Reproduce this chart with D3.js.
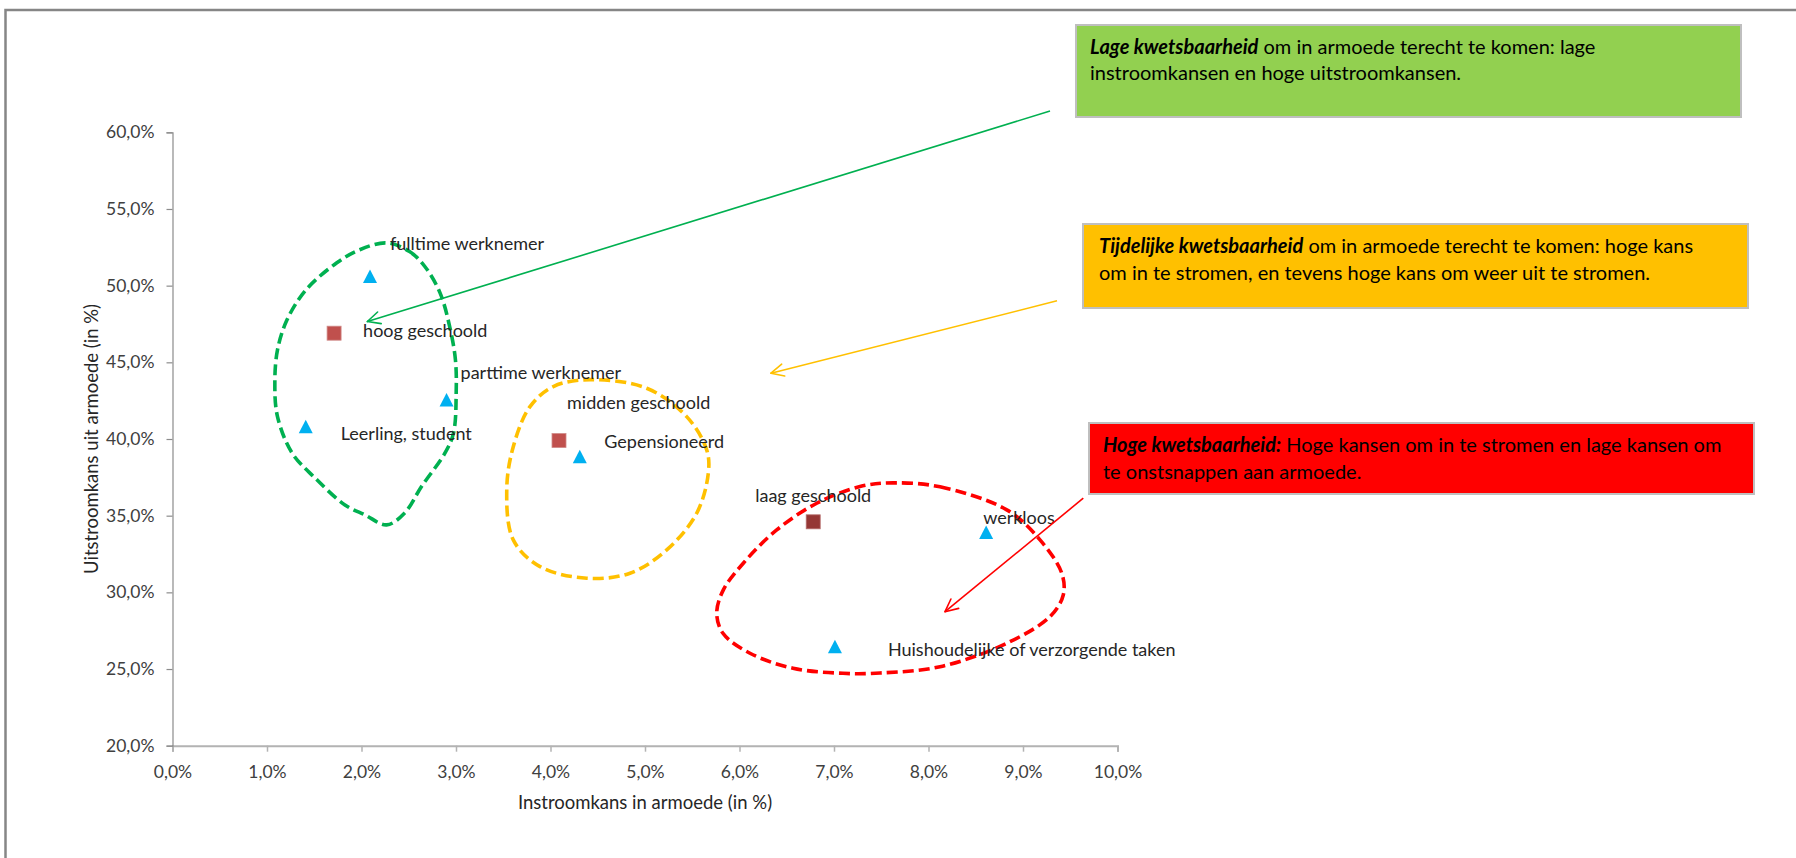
<!DOCTYPE html>
<html>
<head>
<meta charset="utf-8">
<script src="https://cdn.jsdelivr.net/npm/d3@7"></script>
<style>
  html, body { margin: 0; padding: 0; background: #fff; }
  svg { display: block; font-family: Lato, "Open Sans", sans-serif; }
</style>
</head>
<body>
<div id="chart"></div>
<script>
// scatter: inflow chance (x, %) vs outflow chance (y, %)
var labels = ['fulltime werknemer', 'hoog geschoold', 'parttime werknemer', 'Leerling, student',
  'midden geschoold', 'Gepensioneerd', 'laag geschoold', 'werkloos',
  'Huishoudelijke of verzorgende taken'];
var instroom = [2.09, 1.71, 2.90, 1.41, 4.09, 4.31, 6.78, 8.61, 7.01];
var uitstroom = [50.6, 46.9, 42.55, 40.8, 39.9, 38.85, 34.6, 33.9, 26.45];
var kinds = ['tri', 'sq', 'tri', 'tri', 'sq', 'tri', 'sqDark', 'tri', 'tri'];

var xTicks = [0, 1, 2, 3, 4, 5, 6, 7, 8, 9, 10];
var yTicks = [20, 25, 30, 35, 40, 45, 50, 55, 60];

// hand-drawn group outlines, in data units [x%, y%]
var greenOutline = [[2.265, 52.79], [2.508, 52.22], [2.67, 51.25], [2.831, 49.53], [2.933, 47.33],
  [2.994, 45.16], [3.002, 43.01], [2.974, 40.4], [2.884, 39.09], [2.635, 36.9], [2.457, 35.18],
  [2.266, 34.4], [2.037, 35.05], [1.825, 35.7], [1.508, 37.46], [1.265, 39.09], [1.111, 41.46],
  [1.083, 43.66], [1.111, 45.81], [1.212, 47.77], [1.413, 49.73], [1.739, 51.49], [1.981, 52.34]];
var orangeOutline = [[4.418, 43.87], [5.018, 43.31], [5.441, 41.46], [5.653, 39.29], [5.67, 37.77],
  [5.547, 35.16], [5.23, 32.77], [4.841, 31.25], [4.383, 30.92], [3.889, 31.68], [3.606, 33.42],
  [3.537, 36.68], [3.606, 39.5], [3.783, 42.11], [4.03, 43.42]];
var redOutline = [[7.624, 37.14], [8.122, 36.88], [8.828, 35.38], [9.18, 33.42], [9.41, 31.25],
  [9.426, 29.83], [9.286, 28.42], [8.828, 26.68], [8.122, 25.15], [7.487, 24.74], [7.095, 24.72],
  [6.566, 25.05], [6.111, 26.03], [5.825, 27.33], [5.759, 28.64], [5.829, 30.16], [6.04, 31.9],
  [6.394, 34.07], [6.817, 35.81], [7.275, 36.9]];

// callout arrows [from, to] in data units
var greenArrow = [[9.286, 61.39], [2.062, 47.66]];
var orangeArrow = [[9.36, 49.01], [6.333, 44.29]];
var redArrow = [[9.638, 36.14], [8.175, 28.74]];

var boxTitles = ['Lage kwetsbaarheid', 'Tijdelijke kwetsbaarheid', 'Hoge kwetsbaarheid:'];
var boxLines = [
  [' om in armoede terecht te komen: lage', 'instroomkansen en hoge uitstroomkansen.'],
  [' om in armoede terecht te komen: hoge kans', 'om in te stromen, en tevens hoge kans om weer uit te stromen.'],
  [' Hoge kansen om in te stromen en lage kansen om', 'te onstsnappen aan armoede.']
];

var W = 1796, H = 858;
var X0 = 172.5, X1 = 1117.5, Y0 = 745.7, Y1 = 132.3;

var svg = d3.select('#chart').append('svg')
  .attr('width', W)
  .attr('height', H);

// outer frame (right/bottom edges fall outside the picture)
svg.append('rect')
  .attr('x', 5.5).attr('y', 10)
  .attr('width', W + 10).attr('height', H + 10)
  .attr('fill', '#fff')
  .attr('stroke', '#868686')
  .attr('stroke-width', 2.5);

var x = d3.scaleLinear().domain([0, 10]).range([X0, X1]);
var y = d3.scaleLinear().domain([20, 60]).range([Y0, Y1]);

function pct(v) { return d3.format('.1f')(v).replace('.', ',') + '%'; }

var xAxis = svg.append('g')
  .attr('transform', 'translate(0,' + Y0 + ')')
  .call(d3.axisBottom(x).tickValues(xTicks).tickSize(6).tickFormat(pct));
xAxis.select('.domain').attr('stroke', '#b3b3b3').attr('stroke-width', 2);
xAxis.selectAll('.tick line').attr('stroke', '#b3b3b3').attr('stroke-width', 1.5);
xAxis.selectAll('.tick text')
  .attr('dy', 0).attr('y', 32)
  .attr('fill', '#404040')
  .style('font-size', '17.5px')
  .style('font-family', 'Lato, sans-serif');

var yAxis = svg.append('g')
  .attr('transform', 'translate(' + X0 + ',0)')
  .call(d3.axisLeft(y).tickValues(yTicks).tickSize(6).tickFormat(pct));
yAxis.select('.domain').attr('stroke', '#8c8c8c').attr('stroke-width', 1.2);
yAxis.selectAll('.tick line').attr('stroke', '#8c8c8c').attr('stroke-width', 1.2);
yAxis.selectAll('.tick text')
  .attr('x', -18)
  .attr('fill', '#404040')
  .style('font-size', '17.5px')
  .style('font-family', 'Lato, sans-serif');

svg.append('text')
  .attr('x', (X0 + X1) / 2)
  .attr('y', 809)
  .attr('text-anchor', 'middle')
  .attr('fill', '#262626')
  .style('font-size', '18.5px')
  .text('Instroomkans in armoede (in %)');

svg.append('text')
  .attr('transform', 'translate(98,' + ((Y0 + Y1) / 2) + ') rotate(-90)')
  .attr('text-anchor', 'middle')
  .attr('fill', '#262626')
  .style('font-size', '18.5px')
  .text('Uitstroomkans uit armoede (in %)');

// dashed group outlines
var outline = d3.line()
  .x(function(d) { return x(d[0]); })
  .y(function(d) { return y(d[1]); })
  .curve(d3.curveCatmullRomClosed.alpha(0.5));

[[greenOutline, '#00b050'], [orangeOutline, '#ffc000'], [redOutline, '#ff0000']].forEach(function(o) {
  svg.append('path')
    .attr('d', outline(o[0]))
    .attr('fill', 'none')
    .attr('stroke', o[1])
    .attr('stroke-width', 3.6)
    .attr('stroke-dasharray', '11,5');
});

// points
var MARK_COLORS = { tri: '#00b0f0', sq: '#c0504d', sqDark: '#953735' };
labels.forEach(function(lab, i) {
  var cx = x(instroom[i]), cy = y(uitstroom[i]);
  var k = kinds[i];
  if (k === 'tri') {
    svg.append('path')
      .attr('d', 'M' + cx + ',' + (cy - 7) + 'L' + (cx + 7) + ',' + (cy + 6.5) + 'L' + (cx - 7) + ',' + (cy + 6.5) + 'Z')
      .attr('fill', MARK_COLORS[k]);
  } else {
    svg.append('rect')
      .attr('x', cx - 7).attr('y', cy - 7)
      .attr('width', 14).attr('height', 14)
      .attr('fill', MARK_COLORS[k])
      .attr('stroke', k === 'sq' ? '#d08a88' : '#b56e6c')
      .attr('stroke-width', 0.8);
  }
});

// data labels, offset from their point (px)
var labelOffsets = [[20, -33], [29, -2], [14, -27], [35, 7], [8, -38], [24.5, -15], [-58, -26], [-3, -15], [53, 3]];
labels.forEach(function(lab, i) {
  svg.append('text')
    .attr('x', x(instroom[i]) + labelOffsets[i][0])
    .attr('y', y(uitstroom[i]) + labelOffsets[i][1])
    .attr('dy', '0.35em')
    .attr('fill', '#262626')
    .style('font-size', '18px')
    .text(lab);
});

// callout arrows with open heads
function arrow(a, color) {
  var sx = x(a[0][0]), sy = y(a[0][1]), tx = x(a[1][0]), ty = y(a[1][1]);
  svg.append('line')
    .attr('x1', sx).attr('y1', sy).attr('x2', tx).attr('y2', ty)
    .attr('stroke', color).attr('stroke-width', 1.6);
  var ang = Math.atan2(sy - ty, sx - tx);
  var len = 14, spread = 0.45;
  [ang - spread, ang + spread].forEach(function(t) {
    svg.append('line')
      .attr('x1', tx).attr('y1', ty)
      .attr('x2', tx + len * Math.cos(t)).attr('y2', ty + len * Math.sin(t))
      .attr('stroke', color).attr('stroke-width', 1.6)
      .attr('stroke-linecap', 'round');
  });
}
arrow(greenArrow, '#00b050');
arrow(orangeArrow, '#ffc000');
arrow(redArrow, '#ff0000');

// explanation boxes
var boxes = [
  { x: 1076, y: 25, w: 665, h: 92, fill: '#92d050', tx: 1090, ty: 53.7 },
  { x: 1083, y: 224, w: 665, h: 84, fill: '#ffc000', tx: 1099, ty: 253 },
  { x: 1089, y: 423, w: 665, h: 71, fill: '#ff0000', tx: 1103, ty: 452 }
];
boxes.forEach(function(b, i) {
  svg.append('rect')
    .attr('x', b.x).attr('y', b.y)
    .attr('width', b.w).attr('height', b.h)
    .attr('fill', b.fill)
    .attr('stroke', '#bfbfbf')
    .attr('stroke-width', 2);
  var t1 = svg.append('text')
    .attr('x', b.tx).attr('y', b.ty)
    .attr('fill', '#000')
    .style('font-size', '20px');
  t1.append('tspan')
    .attr('font-weight', 'bold')
    .attr('font-style', 'italic')
    .text(boxTitles[i]);
  t1.append('tspan').text(boxLines[i][0]);
  svg.append('text')
    .attr('x', b.tx).attr('y', b.ty + 26.7)
    .attr('fill', '#000')
    .style('font-size', '20px')
    .text(boxLines[i][1]);
});
</script>
</body>
</html>
